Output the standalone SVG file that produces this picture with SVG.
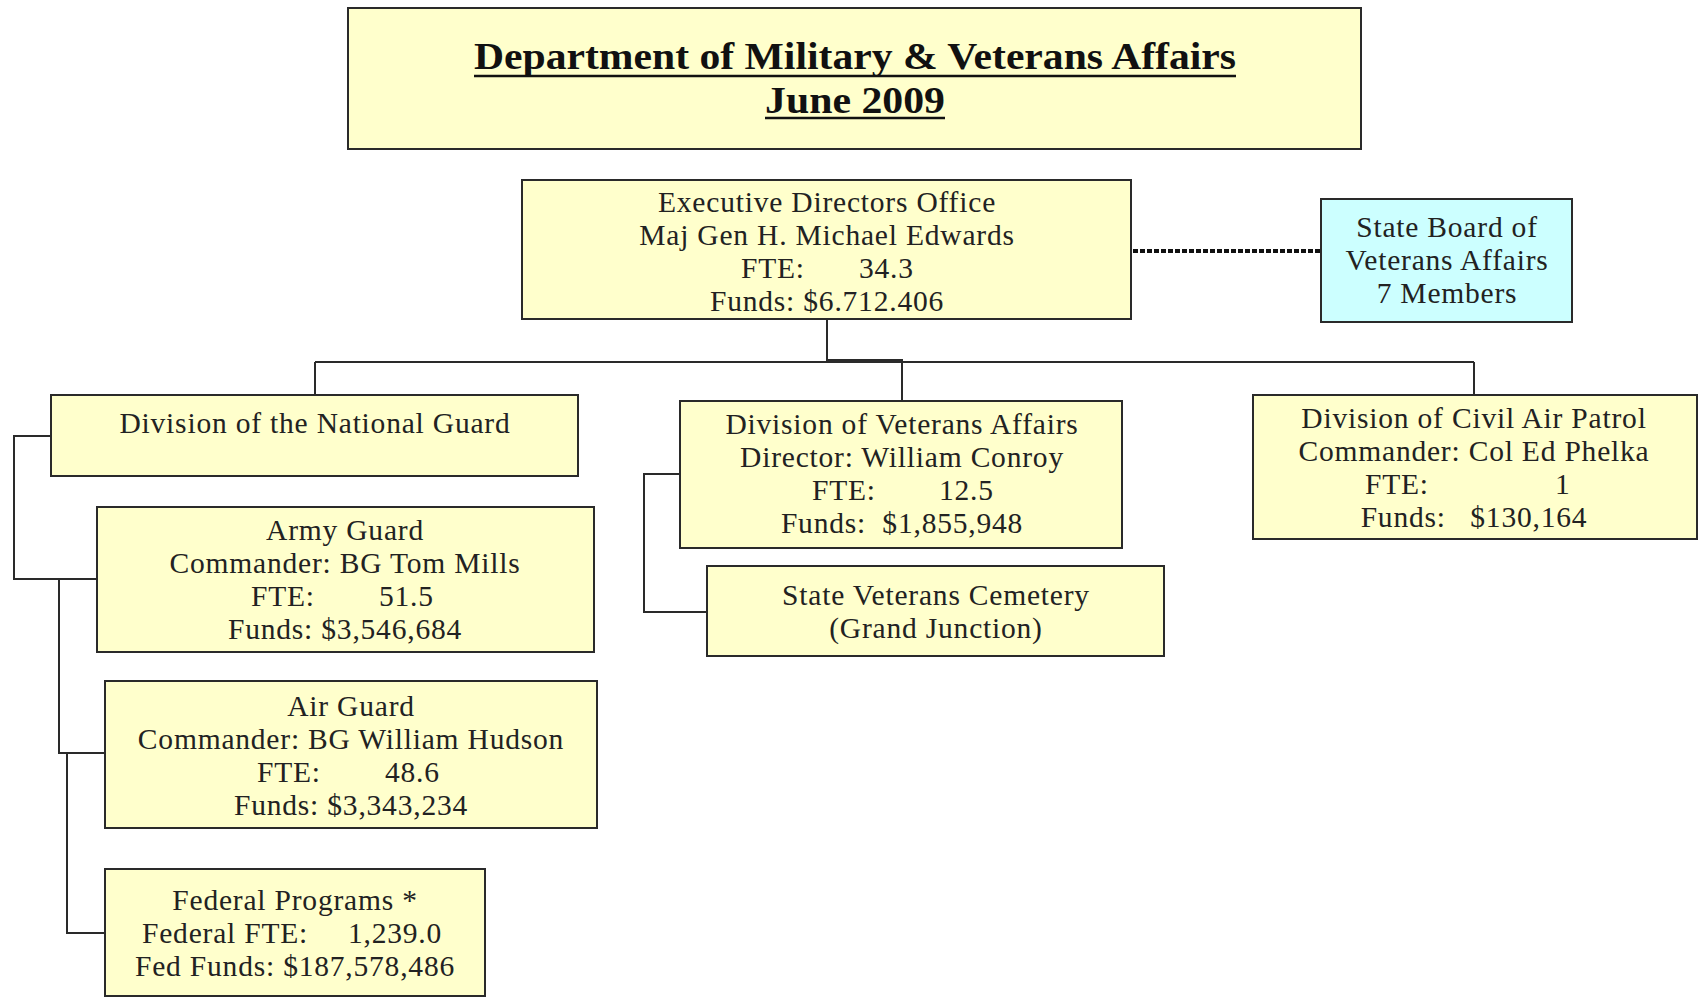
<svg xmlns="http://www.w3.org/2000/svg" width="1701" height="997" viewBox="0 0 1701 997">
<style>
.box{fill:#ffffcc;stroke:#2a2a2a;stroke-width:2}
.cyan{fill:#ccffff;stroke:#2a2a2a;stroke-width:2}
.t{font-family:"Liberation Serif","Times New Roman",serif;font-size:29.5px;letter-spacing:0.8px;fill:#222;text-anchor:middle}
.s{text-anchor:start}
.title{font-family:"Liberation Serif","Times New Roman",serif;font-size:38px;font-weight:bold;fill:#111;text-anchor:middle}
.ln{fill:none;stroke:#2a2a2a;stroke-width:2}
.dot{fill:none;stroke:#111;stroke-width:4;stroke-dasharray:5 2}
.ul{stroke:#111;stroke-width:2.5}
</style>
<rect width="1701" height="997" fill="#ffffff"/>
<g id="connectors">
<polyline class="ln" points="827,319 827,362"/>
<polyline class="ln" points="315,362 1474,362"/>
<polyline class="ln" points="315,362 315,395"/>
<polyline class="ln" points="827,360 902,360 902,401"/>
<polyline class="ln" points="1474,362 1474,395"/>
<polyline class="ln" points="51,436 14,436 14,579 97,579"/>
<polyline class="ln" points="59,579 59,753 105,753"/>
<polyline class="ln" points="67,753 67,933 105,933"/>
<polyline class="ln" points="680,474 644,474 644,612 707,612"/>
<line class="dot" x1="1133" y1="251" x2="1320" y2="251"/>
</g>
<g id="title">
<rect class="box" x="348" y="8" width="1013" height="141"/>
<text class="title" x="855" y="69" textLength="762" lengthAdjust="spacingAndGlyphs">Department of Military &amp; Veterans Affairs</text>
<line class="ul" x1="474" y1="76" x2="1236" y2="76"/>
<text class="title" x="855" y="113" textLength="180" lengthAdjust="spacingAndGlyphs">June 2009</text>
<line class="ul" x1="765" y1="118" x2="945" y2="118"/>
</g>
<g id="exec">
<rect class="box" x="522" y="180" width="609" height="139"/>
<text class="t" x="827" y="212">Executive Directors Office</text>
<text class="t" x="827" y="245">Maj Gen H. Michael Edwards</text>
<text class="t s" y="278"><tspan x="741">FTE:</tspan><tspan x="859">34.3</tspan></text>
<text class="t" x="827" y="311">Funds: $6.712.406</text>
</g>
<g id="stateboard">
<rect class="cyan" x="1321" y="199" width="251" height="123"/>
<text class="t" x="1447" y="237">State Board of</text>
<text class="t" x="1447" y="270">Veterans Affairs</text>
<text class="t" x="1447" y="303">7 Members</text>
</g>
<g id="nationalguard">
<rect class="box" x="51" y="395" width="527" height="81"/>
<text class="t" x="315" y="433">Division of the National Guard</text>
</g>
<g id="army">
<rect class="box" x="97" y="507" width="497" height="145"/>
<text class="t" x="345" y="540">Army Guard</text>
<text class="t" x="345" y="573">Commander: BG Tom Mills</text>
<text class="t s" y="606"><tspan x="251">FTE:</tspan><tspan x="379">51.5</tspan></text>
<text class="t" x="345" y="639">Funds: $3,546,684</text>
</g>
<g id="air">
<rect class="box" x="105" y="681" width="492" height="147"/>
<text class="t" x="351" y="716">Air Guard</text>
<text class="t" x="351" y="749">Commander: BG William Hudson</text>
<text class="t s" y="782"><tspan x="257">FTE:</tspan><tspan x="385">48.6</tspan></text>
<text class="t" x="351" y="815">Funds: $3,343,234</text>
</g>
<g id="federal">
<rect class="box" x="105" y="869" width="380" height="127"/>
<text class="t" x="295" y="910">Federal Programs *</text>
<text class="t s" y="943"><tspan x="142">Federal FTE:</tspan><tspan x="348">1,239.0</tspan></text>
<text class="t" x="295" y="976">Fed Funds: $187,578,486</text>
</g>
<g id="veterans">
<rect class="box" x="680" y="401" width="442" height="147"/>
<text class="t" x="902" y="434">Division of Veterans Affairs</text>
<text class="t" x="902" y="467">Director: William Conroy</text>
<text class="t s" y="500"><tspan x="812">FTE:</tspan><tspan x="939">12.5</tspan></text>
<text class="t" x="902" y="533" xml:space="preserve">Funds:  $1,855,948</text>
</g>
<g id="cemetery">
<rect class="box" x="707" y="566" width="457" height="90"/>
<text class="t" x="936" y="605">State Veterans Cemetery</text>
<text class="t" x="936" y="638">(Grand Junction)</text>
</g>
<g id="cap">
<rect class="box" x="1253" y="395" width="444" height="144"/>
<text class="t" x="1474" y="428">Division of Civil Air Patrol</text>
<text class="t" x="1474" y="461">Commander: Col Ed Phelka</text>
<text class="t s" y="494"><tspan x="1365">FTE:</tspan><tspan x="1555">1</tspan></text>
<text class="t" x="1474" y="527" xml:space="preserve">Funds:   $130,164</text>
</g>
</svg>
